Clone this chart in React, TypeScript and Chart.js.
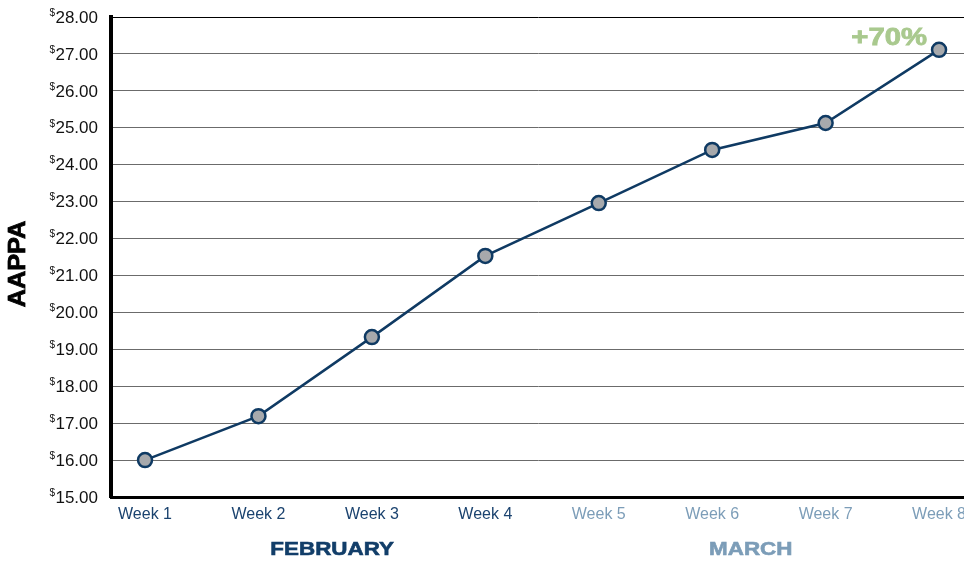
import React, { useEffect, useRef } from "react";
import { Chart, registerables } from "chart.js";

Chart.register(...registerables);

const weeks = [1, 2, 3, 4, 5, 6, 7, 8];
const weekLabels = ["Week 1", "Week 2", "Week 3", "Week 4", "Week 5", "Week 6", "Week 7", "Week 8"];
const values = [16.0, 17.19, 19.33, 21.53, 22.96, 24.4, 25.13, 27.11];
const months = ["FEBRUARY", "MARCH"];
const monthPositions = [2.65, 6.34];
const annotationText = "+70%";
const yTickValues = [15, 16, 17, 18, 19, 20, 21, 22, 23, 24, 25, 26, 27, 28];
const yTitle = "AAPPA";

const NAVY = "#0f3a63";
const DARK_LABEL = "#1b436f";
const LIGHT_LABEL = "#7c9db8";
const GREEN = "#a9c98e";

const overlay = {
  id: "overlay",
  afterDraw(chart: any) {
    const ctx = chart.ctx;
    const xs = chart.scales.x;
    const ys = chart.scales.y;
    ctx.save();
    // y tick labels
    ctx.fillStyle = "#111";
    ctx.textBaseline = "middle";
    ctx.textAlign = "right";
    for (const v of yTickValues) {
      const y = ys.getPixelForValue(v) + 1;
      const s = v.toFixed(2);
      ctx.font = "17px 'Liberation Sans', Arial, sans-serif";
      const w = ctx.measureText(s).width;
      ctx.fillText(s, 98, y);
      ctx.font = "10px 'Liberation Sans', Arial, sans-serif";
      ctx.fillText("$", 98 - w - 0.5, y - 5);
    }
    // x tick labels
    ctx.textAlign = "center";
    ctx.font = "16px 'Liberation Sans', Arial, sans-serif";
    weeks.forEach((w, i) => {
      ctx.fillStyle = i < 4 ? DARK_LABEL : LIGHT_LABEL;
      ctx.fillText(weekLabels[i], xs.getPixelForValue(w), 515);
    });
    // month labels
    ctx.font = "bold 19px 'Liberation Sans', Arial, sans-serif";
    months.forEach((m, i) => {
      ctx.save();
      ctx.translate(xs.getPixelForValue(monthPositions[i]), 550);
      ctx.scale(1.18, 1);
      ctx.fillStyle = i === 0 ? "#123e69" : LIGHT_LABEL;
      ctx.fillText(m, 0, 0);
      ctx.strokeStyle = ctx.fillStyle;
      ctx.lineWidth = 0.6;
      ctx.strokeText(m, 0, 0);
      ctx.restore();
    });
    // annotation
    const last = values.length - 1;
    const px = xs.getPixelForValue(weeks[last]);
    const py = ys.getPixelForValue(values[last]);
    ctx.save();
    ctx.translate(px - 12, py - 11);
    ctx.scale(1.22, 1);
    ctx.textAlign = "right";
    ctx.font = "bold 24px 'Liberation Sans', Arial, sans-serif";
    ctx.fillStyle = GREEN;
    ctx.strokeStyle = GREEN;
    ctx.lineWidth = 0.8;
    ctx.fillText(annotationText, 0, 0);
    ctx.strokeText(annotationText, 0, 0);
    ctx.restore();
    // y title
    ctx.save();
    ctx.translate(19, 264);
    ctx.rotate(-Math.PI / 2);
    ctx.scale(1.1, 1);
    ctx.textAlign = "center";
    ctx.font = "900 23px 'Liberation Sans', Arial, sans-serif";
    ctx.fillStyle = "#000";
    ctx.lineWidth = 0.8;
    ctx.strokeStyle = "#000";
    ctx.fillText(yTitle, 0, 0);
    ctx.strokeText(yTitle, 0, 0);
    ctx.restore();
    ctx.restore();
  },
};

export default function App() {
  const ref = useRef<HTMLCanvasElement>(null);
  useEffect(() => {
    document.body.style.margin = "0";
    const chart = new Chart(ref.current!, {
      type: "line",
      data: {
        datasets: [
          {
            data: weeks.map((w, i) => ({ x: w, y: values[i] })),
            borderColor: NAVY,
            borderWidth: 2.5,
            pointRadius: 7,
            pointBackgroundColor: "#a7a9ac",
            pointBorderColor: NAVY,
            pointBorderWidth: 2.5,
            tension: 0,
            clip: false as any,
          },
        ],
      },
      options: {
        animation: false,
        responsive: false,
        maintainAspectRatio: false,
        layout: { autoPadding: false, padding: { top: 17, left: 0, right: 0, bottom: 0 } },
        plugins: { legend: { display: false }, tooltip: { enabled: false } },
        scales: {
          x: {
            type: "linear",
            min: 0.7,
            max: 8.22,
            ticks: { display: false },
            grid: { color: "rgba(0,0,0,0)", drawTicks: false },
            border: { display: true, color: "#000", width: 3 },
            afterFit: (s: any) => {
              s.height = 64;
            },
          },
          y: {
            min: 15,
            max: 28,
            ticks: { display: false, stepSize: 1 },
            grid: {
              drawTicks: false,
              color: (c: any) => (c.tick && c.tick.value === 28 ? "#000" : "#6b6b6b"),
              lineWidth: 1,
            },
            border: { display: true, color: "#000", width: 4 },
            afterFit: (s: any) => {
              s.width = 111;
            },
          },
        },
      },
      plugins: [overlay],
    });
    return () => chart.destroy();
  }, []);
  return (
    <div style={{ position: "absolute", left: 0, top: 0, width: 964, height: 561, background: "#fff" }}>
      <canvas ref={ref} width={964} height={561} />
    </div>
  );
}
